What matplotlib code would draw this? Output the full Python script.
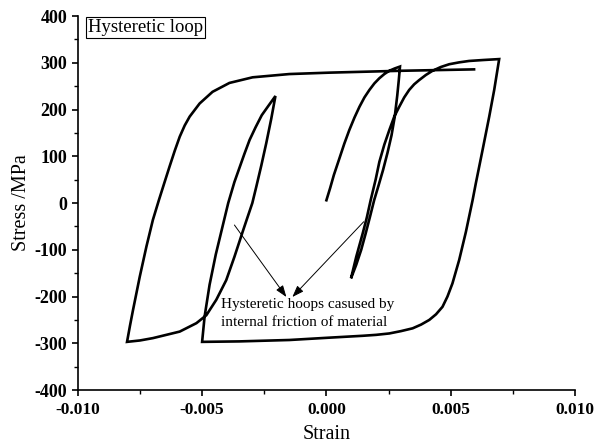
import numpy as np
import matplotlib
matplotlib.use("Agg")
import matplotlib.pyplot as plt

# strain / stress branches of the loading history, in order
load1_strain = [0.0, 0.00015, 0.0003, 0.00052, 0.00072, 0.00092, 0.00113, 0.00133, 0.00153, 0.00173, 0.00193, 0.00213, 0.00233, 0.00253, 0.00275, 0.00296]
load1_stress = [6, 32, 60, 95, 127, 156, 183, 206, 226, 242, 256, 267, 276, 283, 288, 292]

unload1_strain = [0.00296, 0.00291, 0.00285, 0.00275, 0.00262, 0.00246, 0.00228, 0.0021, 0.00192, 0.00175, 0.00158, 0.0014, 0.0012, 0.00099]
unload1_stress = [292, 262, 230, 185, 145, 108, 71, 38, 6, -30, -65, -100, -132, -161]

reload1_strain = [0.00099, 0.0012, 0.00146, 0.00163, 0.00178, 0.00198, 0.00213, 0.00233, 0.00253, 0.00273, 0.00293, 0.00313, 0.00333, 0.00353,
                  0.00373, 0.004, 0.00427, 0.0046, 0.00494, 0.00534, 0.00574, 0.0063, 0.00695]
reload1_stress = [-161, -115, -65, -30, 6, 50, 88, 125, 156, 185, 206, 226, 242, 254, 263, 274, 283, 291, 297, 301, 304, 306, 308]

unload2_strain = [0.00695, 0.00685, 0.00675, 0.00655, 0.00628, 0.00601, 0.00588, 0.00561, 0.00534, 0.00507, 0.00487, 0.00467, 0.00441,
                  0.00414, 0.00381, 0.00347, 0.003, 0.00253, 0.002, 0.00146, 0.00012, -0.00149, -0.0035, -0.005]
unload2_stress = [308, 275, 242, 185, 113, 42, 6, -62, -122, -172, -200, -222, -238, -250, -260, -268, -274, -279, -282, -284, -288, -293,
                  -296, -297]

reload2_strain = [-0.005, -0.0049, -0.0047, -0.00445, -0.0042, -0.00395, -0.0037, -0.0035, -0.0033, -0.00309, -0.00285, -0.0026, -0.00236, -0.00205]
reload2_stress = [-297, -243, -175, -110, -55, 0, 45, 75, 105, 135, 162, 188, 206, 229]

unload3_strain = [-0.00205, -0.00222, -0.00242, -0.00262, -0.00282, -0.00298, -0.00319, -0.00336, -0.0037, -0.00403, -0.00443, -0.00483,
                  -0.00523, -0.0059, -0.00698, -0.0075, -0.00802]
unload3_stress = [229, 180, 128, 80, 35, 0, -33, -60, -115, -165, -207, -240, -257, -275, -289, -294, -297]

reload3_strain = [-0.00802, -0.0079, -0.00778, -0.00751, -0.00724, -0.00698, -0.00674, -0.00652, -0.00631, -0.0061, -0.0059, -0.0057, -0.0055,
                  -0.0051, -0.00458, -0.0039, -0.00297, -0.00149, 0.00012, 0.003, 0.00594]
reload3_stress = [-297, -262, -229, -158, -93, -36, 6, 43, 78, 112, 142, 166, 185, 213, 238, 257, 269, 276, 279, 283, 286]

arrow_tails = [(-0.0037, -47), (0.0015, -40)]
arrow_heads = [(-0.00161, -201), (-0.00137, -201)]

strain = np.concatenate([load1_strain, unload1_strain[1:], reload1_strain[1:], unload2_strain[1:],
                         reload2_strain[1:], unload3_strain[1:], reload3_strain[1:]])
stress = np.concatenate([load1_stress, unload1_stress[1:], reload1_stress[1:], unload2_stress[1:],
                         reload2_stress[1:], unload3_stress[1:], reload3_stress[1:]])

plt.rcParams["font.family"] = "Liberation Serif"
plt.rcParams["axes.unicode_minus"] = False

fig = plt.figure(figsize=(5.94, 4.47), dpi=100)
ax = fig.add_axes([0.131, 0.1275, 0.837, 0.8365])
ax.plot(strain, stress, color="black", lw=1.9, solid_joinstyle="miter")

for tail, head in zip(arrow_tails, arrow_heads):
    ax.annotate("", xy=head, xytext=tail,
                arrowprops=dict(arrowstyle="-|>,head_length=0.5,head_width=0.18", color="black", lw=0.7,
                                mutation_scale=14, shrinkA=0, shrinkB=0))

ax.text(-0.00422, -236, "Hysteretic hoops casused by\ninternal friction of material",
        fontsize=11, va="center", ha="left", linespacing=1.55)
ax.text(-0.0096, 376, "Hysteretic loop", fontsize=13.5, va="center", ha="left",
        bbox=dict(boxstyle="square,pad=0.12", fc="white", ec="black", lw=0.8))

ax.set_xlim(-0.010, 0.010)
ax.set_ylim(-400, 400)
ax.set_xticks([-0.010, -0.005, 0.000, 0.005, 0.010])
ax.set_xticklabels(["-0.010", "-0.005", "0.000", "0.005", "0.010"])
ax.set_yticks(range(-400, 401, 100))
ax.set_xticks(np.arange(-0.0075, 0.01, 0.005), minor=True)
ax.set_yticks(range(-350, 400, 100), minor=True)
for lbl in ax.get_xticklabels() + ax.get_yticklabels():
    lbl.set_fontweight("bold")
ax.tick_params(which="major", direction="out", length=4.5, width=1.2, pad=3)
ax.tick_params(axis="x", labelsize=12.5, pad=4)
ax.tick_params(axis="y", labelsize=13)
ax.tick_params(which="minor", direction="out", length=3, width=1.0)
for side in ("top", "right"):
    ax.spines[side].set_visible(False)
for side in ("left", "bottom"):
    ax.spines[side].set_linewidth(1.2)

ax.set_xlabel("Strain", fontsize=14.5, labelpad=5)
ax.set_ylabel("Stress /MPa", fontsize=14.5, labelpad=3)

fig.savefig("out.png", dpi=100)
